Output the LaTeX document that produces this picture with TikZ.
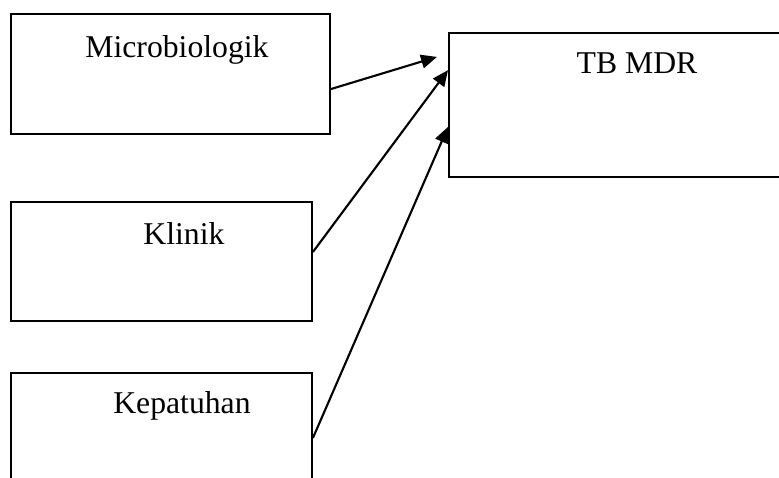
\documentclass[tikz,border=0pt]{standalone}
\usepackage{fontspec}
\setmainfont{Liberation Serif}
\usepackage{tikz}
\usetikzlibrary{arrows.meta,positioning}

\begin{document}
\begin{tikzpicture}[x=0.3785pt, y=-0.3785pt,
    factorbox/.style={draw, line width=0.75pt, inner sep=0pt, font=\fontsize{12}{14}\selectfont},
    link/.style={line width=0.8pt, -{Triangle[length=6pt, width=5.2pt]}}]
    % Frame
    \useasboundingbox (0,0) rectangle (779,478);
    \clip (0,0) rectangle (779,478);

    % Factors
    \node[factorbox, minimum width=120.7pt, text height=16.3pt, text depth=29.1pt] (micro) at (170.5,74) {\hspace*{4.9pt}Microbiologik};
    \node[factorbox, minimum width=113.9pt, text height=15.9pt, text depth=29.1pt] (klinik) at (161.5,261.5) {\hspace*{17pt}Klinik};
    \node[factorbox, minimum width=113.9pt, text height=15.5pt, text depth=30.7pt] (patuh) at (161.5,434) {\hspace*{15.5pt}Kepatuhan};

    % Outcome
    \node[factorbox, minimum width=142.3pt, text height=15.5pt, text depth=39pt] (tbmdr) at (637,105) {TB MDR};

    % Arrows
    \draw[link] ([yshift=-5.7pt]micro.east) -- ([xshift=-4.2pt, yshift=18.2pt]tbmdr.west);
    \draw[link] ([yshift=3.6pt]klinik.east) -- ([yshift=13.2pt]tbmdr.west);
    \draw[link] ([yshift=-1.5pt]patuh.east) -- ([yshift=-8.3pt]tbmdr.west);
\end{tikzpicture}
\end{document}
